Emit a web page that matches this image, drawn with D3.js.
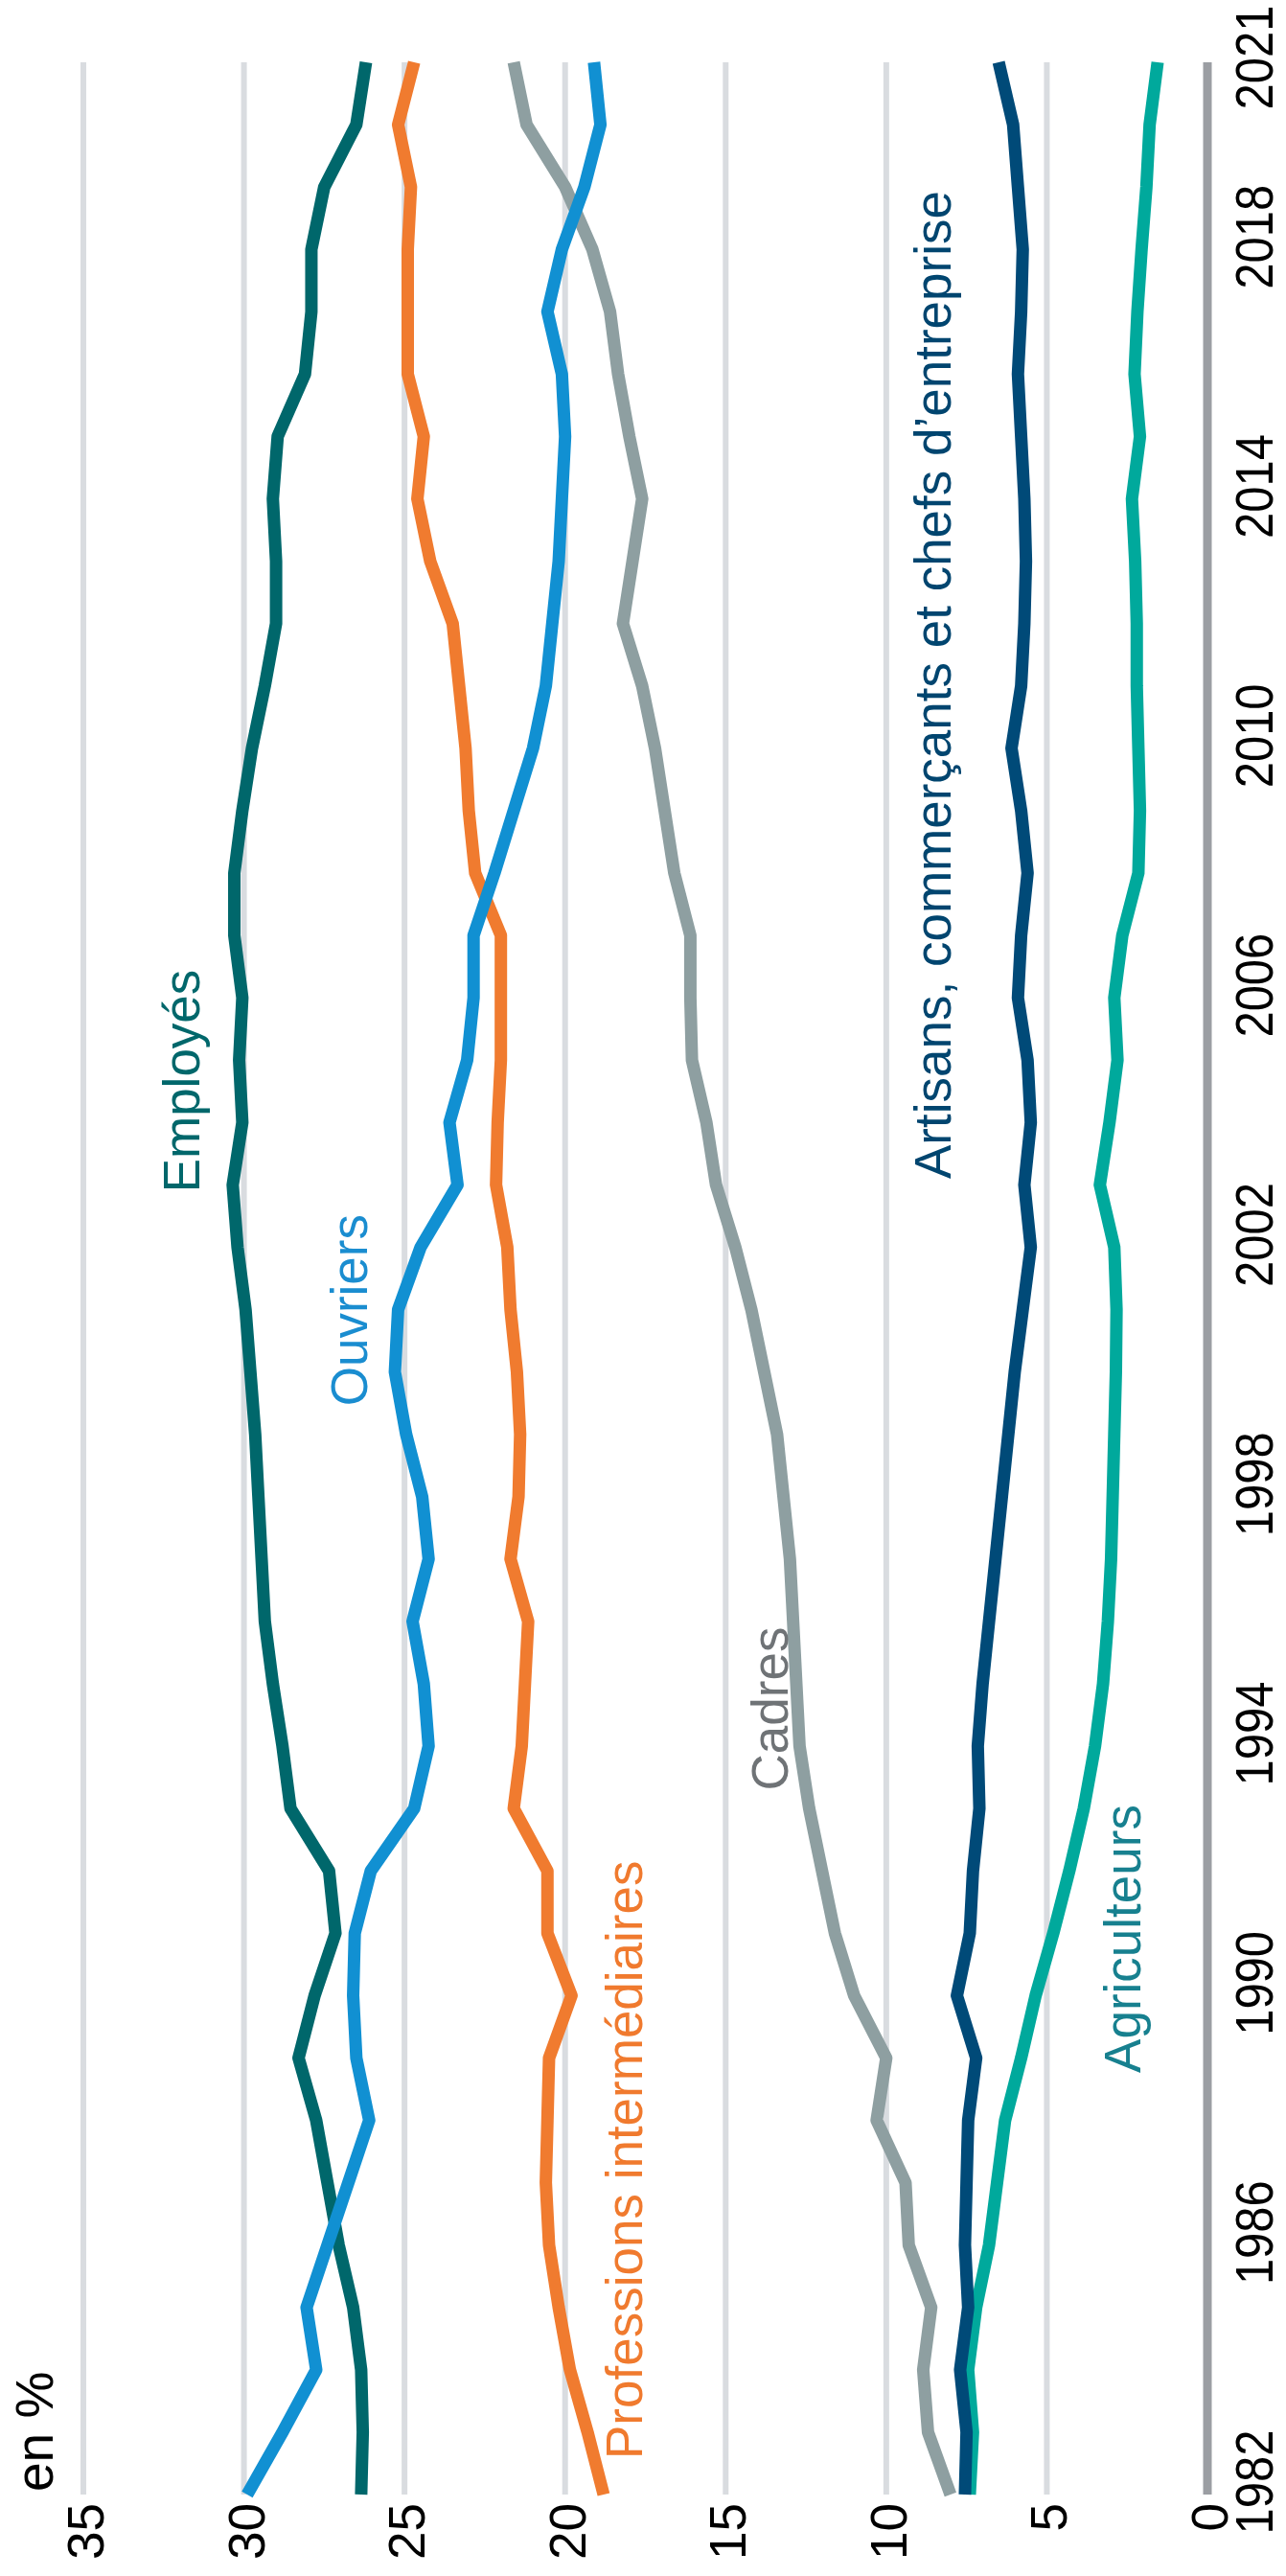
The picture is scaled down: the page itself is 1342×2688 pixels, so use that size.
<!DOCTYPE html>
<html>
<head>
<meta charset="utf-8">
<script src="https://cdn.jsdelivr.net/npm/d3@7"></script>
<style>
  body { margin: 0; background: #fff; }
  svg { display: block; font-family: "Liberation Sans", Arial, Helvetica, sans-serif; }
</style>
</head>
<body>
<div id="chart"></div>
<script>
// years on the (rotated) time axis
const years = [1982, 1983, 1984, 1985, 1986, 1987, 1988, 1989, 1990, 1991,
               1992, 1993, 1994, 1995, 1996, 1997, 1998, 1999, 2000, 2001,
               2002, 2003, 2004, 2005, 2006, 2007, 2008, 2009, 2010, 2011,
               2012, 2013, 2014, 2015, 2016, 2017, 2018, 2019, 2020, 2021];

// share of employment, en %
const employes = [26.35, 26.3, 26.35, 26.6, 27.05, 27.4, 27.75, 28.3, 27.8, 27.15,
                  27.35, 28.55, 28.8, 29.1, 29.35, 29.45, 29.55, 29.65, 29.8, 29.95,
                  30.2, 30.35, 30.05, 30.15, 30.05, 30.3, 30.3, 30.05, 29.75, 29.35,
                  29.0, 29.0, 29.1, 28.95, 28.1, 27.9, 27.9, 27.5, 26.5, 26.2];
const ouvriers = [29.9, 28.8, 27.75, 28.05, 27.4, 26.75, 26.1, 26.5, 26.6, 26.55,
                  26.05, 24.7, 24.25, 24.4, 24.75, 24.25, 24.45, 24.95, 25.3, 25.2,
                  24.5, 23.35, 23.6, 23.05, 22.85, 22.85, 22.2, 21.6, 21.0, 20.6,
                  20.4, 20.2, 20.1, 20.0, 20.1, 20.55, 20.1, 19.4, 18.9, 19.1];
const professions = [18.8, 19.3, 19.85, 20.2, 20.5, 20.6, 20.55, 20.5, 19.8, 20.55,
                     20.55, 21.6, 21.35, 21.25, 21.15, 21.7, 21.45, 21.4, 21.5, 21.7,
                     21.8, 22.15, 22.1, 22.0, 22.0, 22.0, 22.8, 23.0, 23.1, 23.3,
                     23.5, 24.2, 24.6, 24.4, 24.9, 24.9, 24.9, 24.8, 25.2, 24.7];
const cadres = [8.0, 8.7, 8.85, 8.6, 9.3, 9.4, 10.3, 10.0, 11.0, 11.6,
                12.0, 12.4, 12.7, 12.8, 12.9, 13.0, 13.2, 13.4, 13.8, 14.2,
                14.7, 15.3, 15.6, 16.05, 16.1, 16.1, 16.6, 16.9, 17.2, 17.6,
                18.2, 17.9, 17.6, 18.0, 18.35, 18.6, 19.15, 20.0, 21.2, 21.6];
const artisans = [7.55, 7.5, 7.7, 7.45, 7.55, 7.5, 7.45, 7.2, 7.8, 7.4,
                  7.3, 7.1, 7.15, 7.0, 6.8, 6.6, 6.4, 6.2, 6.0, 5.75,
                  5.5, 5.7, 5.5, 5.6, 5.9, 5.8, 5.6, 5.8, 6.1, 5.8,
                  5.7, 5.65, 5.7, 5.8, 5.9, 5.8, 5.75, 5.9, 6.05, 6.5];
const agriculteurs = [7.4, 7.3, 7.45, 7.2, 6.8, 6.55, 6.3, 5.8, 5.35, 4.8,
                      4.3, 3.85, 3.5, 3.25, 3.1, 3.0, 2.95, 2.9, 2.85, 2.83,
                      2.9, 3.35, 3.05, 2.8, 2.9, 2.65, 2.15, 2.1, 2.15, 2.2,
                      2.2, 2.25, 2.35, 2.1, 2.27, 2.18, 2.05, 1.9, 1.8, 1.55];

const yTicks = [0, 5, 10, 15, 20, 25, 30, 35];
const yearTicks = [1982, 1986, 1990, 1994, 1998, 2002, 2006, 2010, 2014, 2018, 2021];

const series = [
  {name: "Cadres", values: cadres, color: "#8e9fa1"},
  {name: "Professions intermédiaires", values: professions, color: "#f07b2f"},
  {name: "Employés", values: employes, color: "#00676b"},
  {name: "Ouvriers", values: ouvriers, color: "#1190d2"},
  {name: "Agriculteurs", values: agriculteurs, color: "#00a99c"},
  {name: "Artisans, commerçants et chefs d’entreprise", values: artisans, color: "#004a78"}
];

// labels placed in the unrotated frame
const labels = [
  {text: "Employés", x: 1560, y: 208, anchor: "middle", color: "#00676b"},
  {text: "Ouvriers", x: 1421, y: 383, anchor: "end", color: "#1a8dd0"},
  {text: "Cadres", x: 905, y: 822, anchor: "middle", color: "#6f7376"},
  {text: "Professions intermédiaires", x: 122, y: 670, anchor: "start", color: "#f07a2e"},
  {text: "Artisans, commerçants et chefs d’entreprise", x: 1458, y: 992, anchor: "start", color: "#00456f"},
  {text: "Agriculteurs", x: 665, y: 1190, anchor: "middle", color: "#17808f"}
];

const W = 2688, H = 1342;   // chart drawn landscape, then turned a quarter

const svg = d3.select("#chart").append("svg")
    .attr("width", 1342)
    .attr("height", 2688);

const g = svg.append("g")
    .attr("transform", "translate(0," + W + ") rotate(-90)");

const x = d3.scaleLinear().domain([1982, 2021]).range([85, 2623]);
const y = d3.scaleLinear().domain([0, 35]).range([1260, 87]);

// grid
g.selectAll(".grid")
  .data(yTicks)
  .enter().append("line")
    .attr("class", "grid")
    .attr("x1", x(1982))
    .attr("x2", x(2021))
    .attr("y1", d => y(d))
    .attr("y2", d => y(d))
    .attr("stroke", d => d === 0 ? "#9b9ea3" : "#d9dce0")
    .attr("stroke-width", d => d === 0 ? 9 : 6);

// value labels
g.selectAll(".ytick")
  .data(yTicks)
  .enter().append("text")
    .attr("class", "ytick")
    .attr("x", 76)
    .attr("y", d => y(d) + 21)
    .attr("text-anchor", "end")
    .attr("font-size", 53)
    .attr("fill", "#000")
    .text(d => d);

g.append("text")
    .attr("x", 88)
    .attr("y", 55)
    .attr("font-size", 55)
    .attr("fill", "#000")
    .text("en %");

// year labels, a bit condensed
g.selectAll(".year")
  .data(yearTicks)
  .enter().append("text")
    .attr("class", "year")
    .attr("transform", d => "translate(" + Math.min(x(d) + 13, 2628) + ",1328) scale(0.89,1)")
    .attr("text-anchor", "middle")
    .attr("font-size", 55)
    .attr("fill", "#000")
    .text(d => d);

const line = d3.line()
    .x((d, i) => x(years[i]))
    .y(d => y(d));

g.selectAll(".serie")
  .data(series)
  .enter().append("path")
    .attr("class", "serie")
    .attr("d", d => line(d.values))
    .attr("fill", "none")
    .attr("stroke", d => d.color)
    .attr("stroke-width", 13)
    .attr("stroke-linejoin", "round");

g.selectAll(".lbl")
  .data(labels)
  .enter().append("text")
    .attr("class", "lbl")
    .attr("x", d => d.x)
    .attr("y", d => d.y)
    .attr("text-anchor", d => d.anchor)
    .attr("font-size", 53)
    .attr("fill", d => d.color)
    .text(d => d.text);
</script>
</body>
</html>
